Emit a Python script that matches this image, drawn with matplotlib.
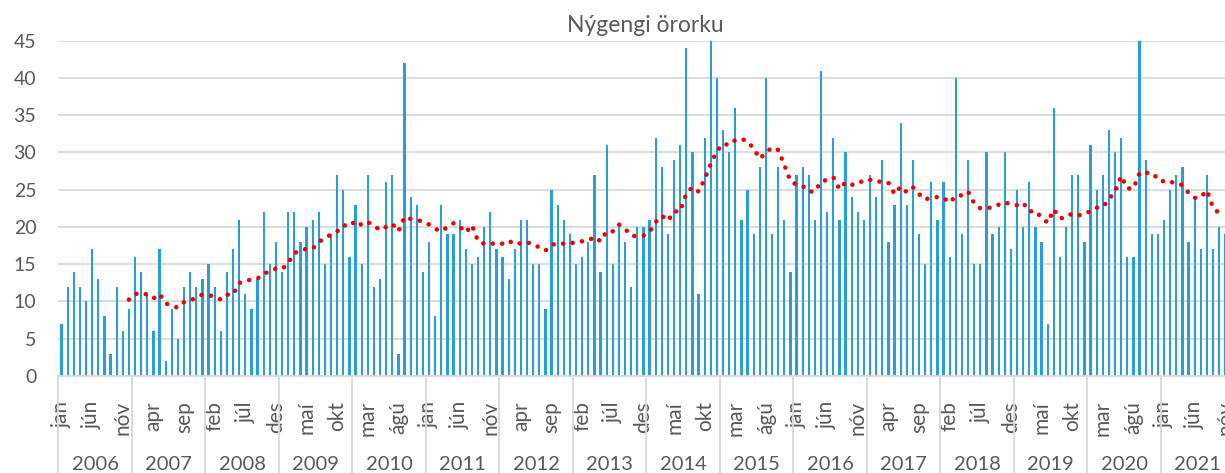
import numpy as np
import pandas as pd
import matplotlib
matplotlib.use('Agg')
import matplotlib.pyplot as plt
import matplotlib.transforms as mtransforms

plt.rcParams['font.family'] = ['Lato', 'DejaVu Sans']

# monthly values, one list per year
years = list(range(2006, 2022))
month_names = ['jan', 'feb', 'mar', 'apr', 'maí', 'jún', 'júl', 'ágú', 'sep', 'okt', 'nóv', 'des']
y2006 = [7, 12, 14, 12, 10, 17, 13, 8, 3, 12, 6, 9]
y2007 = [16, 14, 11, 6, 17, 2, 9, 5, 12, 14, 12, 13]
y2008 = [15, 12, 6, 14, 17, 21, 11, 9, 13, 22, 15, 18]
y2009 = [14, 22, 22, 18, 20, 21, 22, 15, 19, 27, 25, 16]
y2010 = [23, 15, 27, 12, 13, 26, 27, 3, 42, 24, 23, 14]
y2011 = [18, 8, 23, 19, 19, 21, 17, 15, 16, 20, 22, 17]
y2012 = [16, 13, 17, 21, 21, 15, 15, 9, 25, 23, 21, 19]
y2013 = [15, 16, 18, 27, 14, 31, 15, 20, 18, 12, 20, 20]
y2014 = [21, 32, 28, 19, 29, 31, 44, 30, 11, 32, 45, 40]
y2015 = [33, 30, 36, 21, 25, 19, 28, 40, 19, 28, 21, 14]
y2016 = [27, 28, 27, 21, 41, 22, 32, 21, 30, 24, 22, 21]
y2017 = [27, 24, 29, 18, 23, 34, 23, 29, 19, 15, 26, 21]
y2018 = [26, 16, 40, 19, 29, 15, 15, 30, 19, 20, 30, 17]
y2019 = [25, 20, 26, 20, 18, 7, 36, 16, 20, 27, 27, 18]
y2020 = [31, 25, 27, 33, 30, 32, 16, 16, 45, 29, 19, 19]
y2021 = [21, 25, 27, 28, 18, 24, 17, 27, 17, 20, 19]

values = (y2006 + y2007 + y2008 + y2009 + y2010 + y2011 + y2012 + y2013
          + y2014 + y2015 + y2016 + y2017 + y2018 + y2019 + y2020 + y2021)
nygengi = pd.Series(values, dtype=float)
trend = nygengi.rolling(12).mean()   # 12 month moving average
x = np.arange(len(nygengi))

grey = '#D9D9D9'
text_col = '#595959'

fig = plt.figure(figsize=(12.25, 4.73), dpi=100)
ax = fig.add_axes([58.5 / 1225, 97 / 473, 1176 / 1225, 335.3 / 473])

ax.bar(x, nygengi, width=0.36, color='#279FD9', zorder=2)
ax.plot(x, trend, color='#F00000', lw=3.3, ls=(0, (0.01, 2.1)),
        dash_capstyle='round', zorder=3)

ax.set_xlim(-0.5, 191.5)
ax.set_ylim(0, 45)
ax.set_yticks(range(0, 46, 5))
ax.grid(axis='y', color=grey, lw=1.3)
ax.set_axisbelow(True)
for s in ['top', 'right', 'left']:
    ax.spines[s].set_visible(False)
ax.spines['bottom'].set_color(grey)
ax.spines['bottom'].set_linewidth(1.3)
ax.tick_params(axis='y', length=0, pad=16, labelsize=14, labelcolor=text_col)

ticks = np.arange(0, 192, 5)
ax.set_xticks(ticks)
ax.set_xticklabels([month_names[t % 12] for t in ticks], rotation=90)
ax.tick_params(axis='x', which='major', length=0, pad=18, labelsize=15, labelcolor=text_col)
ax.set_xticks(np.arange(-0.5, 192, 12), minor=True)
ax.tick_params(axis='x', which='minor', length=72, width=1.3, color=grey)

trans = mtransforms.blended_transform_factory(ax.transData, ax.transAxes)
for i, yr in enumerate(years):
    ax.text(i * 12 + 5.5, -0.264, str(yr), transform=trans, ha='center', va='center',
            fontsize=14.5, color=text_col)

fig.text(645 / 1225, 1 - 31.5 / 473, 'Nýgengi örorku', ha='center', va='baseline',
         fontsize=16.5, color=text_col)

fig.savefig('out.png', dpi=100)
